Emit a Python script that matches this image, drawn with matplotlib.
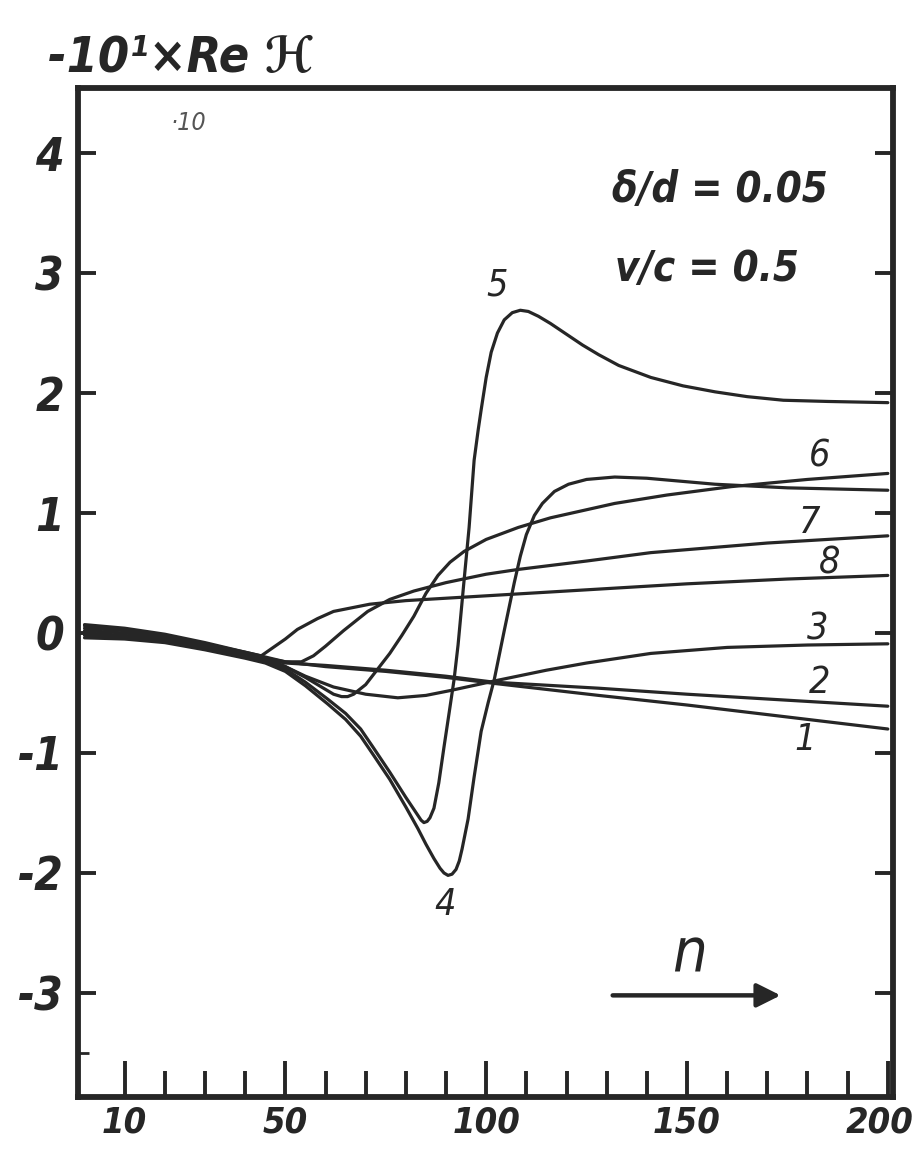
import matplotlib

matplotlib.use("Agg")
import matplotlib.pyplot as plt  # noqa: E402
from matplotlib.transforms import ScaledTranslation  # noqa: E402

# hand-lettered look: slanted condensed sans, STIX only for the script H
HAND = ["DejaVu Sans", "STIXGeneral"]
plt.rcParams["font.family"] = HAND
plt.rcParams["font.style"] = "italic"
plt.rcParams["font.stretch"] = "condensed"
plt.rcParams["axes.unicode_minus"] = False

INK = "#262626"

# -10^1 * Re H against n, one pair of lists per numbered curve
n1 = [0, 10, 20, 30, 40, 50, 60, 75, 90, 102, 128, 150, 175, 200]
h1 = [0.07, 0.04, -0.01, -0.08, -0.16, -0.24, -0.28, -0.32, -0.37, -0.42, -0.52, -0.60, -0.70, -0.80]

n2 = [0, 10, 20, 30, 40, 50, 60, 75, 90, 102, 128, 150, 175, 200]
h2 = [0.04, 0.02, -0.03, -0.10, -0.18, -0.25, -0.27, -0.31, -0.36, -0.41, -0.46, -0.51, -0.56, -0.61]

n3 = [0, 10, 20, 30, 40, 45, 50, 55, 62, 70, 78, 85, 91, 102, 115, 125, 141, 160, 180, 200]
h3 = [0.0, -0.02, -0.06, -0.12, -0.19, -0.22, -0.28, -0.36, -0.45, -0.51, -0.54, -0.52, -0.48,
      -0.40, -0.31, -0.25, -0.17, -0.12, -0.10, -0.09]

n4 = [0, 10, 20, 30, 40, 45, 50, 55, 60.5, 65, 68.75, 72, 76, 80, 83, 85, 87, 88.5, 89.5, 90.5,
      91.5, 92.5, 93.3, 94, 95.5, 97, 98.75, 100.5, 102, 104.5, 107, 108.5, 110, 112, 114, 117,
      120.5, 125, 132, 140, 157, 175, 200]
h4 = [-0.04, -0.05, -0.08, -0.14, -0.21, -0.25, -0.32, -0.44, -0.59, -0.72, -0.86, -1.02, -1.22,
      -1.45, -1.63, -1.76, -1.88, -1.96, -2.00, -2.02, -2.01, -1.97, -1.90, -1.80, -1.55, -1.20,
      -0.82, -0.58, -0.39, 0.02, 0.42, 0.64, 0.82, 0.98, 1.08, 1.18, 1.24, 1.28, 1.30, 1.29, 1.24,
      1.21, 1.19]

n5 = [0, 10, 20, 30, 40, 45, 50, 55, 60.5, 65, 68.75, 72, 76, 80, 82, 83, 83.8, 84.5, 85.3, 86,
      87, 88.2, 89.5, 90.8, 92, 93, 93.75, 94.5, 95.75, 97, 98, 98.75, 100, 101.25, 102.8, 104.5,
      106.5, 108.5, 110.5, 113, 116, 120, 124, 128, 133, 141, 149, 157, 165, 174, 185, 200]
h5 = [-0.02, -0.03, -0.07, -0.13, -0.20, -0.23, -0.30, -0.41, -0.55, -0.67, -0.80, -0.96, -1.16,
      -1.37, -1.47, -1.52, -1.56, -1.58, -1.57, -1.54, -1.46, -1.25, -0.95, -0.66, -0.39, -0.10,
      0.17, 0.44, 0.88, 1.44, 1.69, 1.86, 2.13, 2.34, 2.50, 2.61, 2.67, 2.69, 2.68, 2.64, 2.58,
      2.49, 2.40, 2.32, 2.23, 2.13, 2.06, 2.01, 1.97, 1.94, 1.93, 1.92]

n6 = [0, 10, 20, 30, 40, 45, 50, 55, 60, 62, 64, 65.5, 67, 70, 73, 76, 79, 82, 85, 88, 91, 94.5,
      100, 108, 116, 124, 132, 145, 161, 180, 200]
h6 = [0.02, 0.0, -0.04, -0.10, -0.17, -0.21, -0.28, -0.37, -0.47, -0.51, -0.53, -0.53, -0.51,
      -0.43, -0.30, -0.17, -0.02, 0.14, 0.33, 0.48, 0.59, 0.68, 0.78, 0.88, 0.96, 1.02, 1.08,
      1.15, 1.22, 1.28, 1.33]

n7 = [0, 10, 20, 30, 40, 45, 50, 54, 57, 60, 64.5, 70.5, 76, 82, 90, 100, 108, 125, 141, 170, 200]
h7 = [-0.01, -0.03, -0.06, -0.12, -0.18, -0.21, -0.24, -0.24, -0.19, -0.11, 0.02, 0.18, 0.28, 0.35,
      0.42, 0.49, 0.53, 0.60, 0.67, 0.75, 0.81]

n8 = [0, 10, 20, 30, 40, 44, 47, 50, 53, 58, 62, 71, 80, 95, 120, 150, 175, 200]
h8 = [0.06, 0.03, -0.02, -0.09, -0.16, -0.19, -0.12, -0.05, 0.03, 0.12, 0.18, 0.24, 0.27, 0.30,
      0.35, 0.41, 0.45, 0.48]

curves = [(n1, h1), (n2, h2), (n3, h3), (n4, h4), (n5, h5), (n6, h6), (n7, h7), (n8, h8)]

# curve numbers and where they are written
curve_names = ["1", "2", "3", "4", "5", "6", "7", "8"]
name_n = [179.3, 183, 182.6, 89.8, 102.7, 183, 180.6, 185.6]
name_h = [-0.89, -0.42, 0.03, -2.27, 2.90, 1.47, 0.92, 0.58]

x_major = [10, 50, 100, 150, 200]
x_minor = [20, 30, 40, 60, 70, 80, 90, 110, 120, 130, 140, 160, 170, 180, 190]
y_major = [-3, -2, -1, 0, 1, 2, 3, 4]

fig = plt.figure(figsize=(9.2, 11.54), dpi=100)
ax = fig.add_axes([0.0848, 0.0494, 0.8859, 0.8743])

for n, h in curves:
    ax.plot(n, h, color=INK, lw=2.3, solid_capstyle="round", solid_joinstyle="round")

for name, x, y in zip(curve_names, name_n, name_h):
    ax.text(x, y, name, fontsize=27, color=INK, ha="center", va="center")

ax.set_xlim(-1.62, 201.3)
ax.set_ylim(-3.867, 4.542)

ax.set_xticks(x_major)
ax.set_xticks(x_minor, minor=True)
ax.set_yticks(y_major)
ax.set_yticks([-3.5], minor=True)
ax.set_xticklabels([str(v) for v in x_major], fontsize=26, fontweight="bold")
ax.set_yticklabels([str(v) for v in y_major], fontsize=33, fontweight="bold")
ax.tick_params(axis="x", which="major", direction="in", length=26, width=2.8,
               pad=6, colors=INK)
ax.tick_params(axis="x", which="minor", direction="in", length=19, width=2.8, colors=INK)
ax.tick_params(axis="y", which="major", direction="in", length=13, width=2.8,
               right=True, pad=10, colors=INK)
ax.tick_params(axis="y", which="minor", direction="in", length=8, width=2.0, colors=INK)

# the last n label sits against the frame corner; nudge it inside the figure
last = ax.get_xticklabels()[-1]
last.set_transform(last.get_transform() + ScaledTranslation(-6 / 72, 0, fig.dpi_scale_trans))

for side in ax.spines.values():
    side.set_linewidth(4.2)
    side.set_color(INK)

# axis quantity written above the frame
fig.text(0.052, 0.9376, "-10¹×Re ℋ", fontsize=36, fontweight="bold", color=INK,
         va="baseline", ha="left")
ax.text(21.3, 4.25, "·10", fontsize=18, color="#555555", fontweight="light",
        ha="left", va="center")

# parameters of the run
ax.text(131.3, 3.69, "δ/d = 0.05", fontsize=30, fontweight="bold", color=INK,
        ha="left", va="center")
ax.text(132.0, 3.03, "v/c = 0.5", fontsize=30, fontweight="bold", color=INK,
        ha="left", va="center")

# direction of increasing n
ax.annotate("", xy=(174, -3.02), xytext=(130.8, -3.02),
            arrowprops=dict(arrowstyle="-|>", color=INK, lw=3.2, mutation_scale=36))
ax.text(150.7, -2.68, "n", fontsize=44, color=INK, ha="center", va="center")

fig.savefig("out.png", dpi=100, facecolor="white")
plt.close(fig)
